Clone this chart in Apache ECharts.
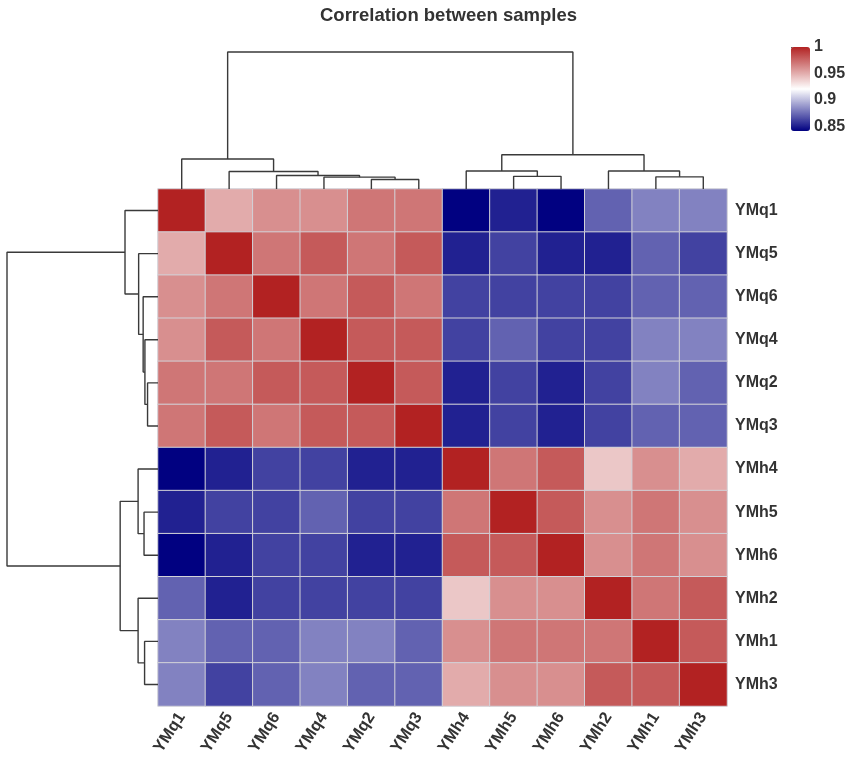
<!DOCTYPE html>
<html>
<head>
<meta charset="utf-8">
<script src="https://cdn.jsdelivr.net/npm/echarts@6/dist/echarts.min.js"></script>
<style>
  html, body { margin: 0; padding: 0; background: #fff; }
  #chart { width: 851px; height: 759px; }
</style>
</head>
<body>
<div id="chart"></div>
<script>
// 样本顺序（聚类后的顺序，行列相同）
const labels = ['YMq1', 'YMq5', 'YMq6', 'YMq4', 'YMq2', 'YMq3', 'YMh4', 'YMh5', 'YMh6', 'YMh2', 'YMh1', 'YMh3'];

// 相关系数矩阵，每行一个样本
const rowYMq1 = [1, 0.951, 0.961, 0.961, 0.970, 0.970, 0.842, 0.852, 0.842, 0.872, 0.882, 0.882];
const rowYMq5 = [0.951, 1, 0.970, 0.980, 0.970, 0.980, 0.852, 0.862, 0.852, 0.852, 0.872, 0.862];
const rowYMq6 = [0.961, 0.970, 1, 0.970, 0.980, 0.970, 0.862, 0.862, 0.862, 0.862, 0.872, 0.872];
const rowYMq4 = [0.961, 0.980, 0.970, 1, 0.980, 0.980, 0.862, 0.872, 0.862, 0.862, 0.882, 0.882];
const rowYMq2 = [0.970, 0.970, 0.980, 0.980, 1, 0.980, 0.852, 0.862, 0.852, 0.862, 0.882, 0.872];
const rowYMq3 = [0.970, 0.980, 0.970, 0.980, 0.980, 1, 0.852, 0.862, 0.852, 0.862, 0.872, 0.872];
const rowYMh4 = [0.842, 0.852, 0.862, 0.862, 0.852, 0.852, 1, 0.970, 0.980, 0.941, 0.961, 0.951];
const rowYMh5 = [0.852, 0.862, 0.862, 0.872, 0.862, 0.862, 0.970, 1, 0.980, 0.961, 0.970, 0.961];
const rowYMh6 = [0.842, 0.852, 0.862, 0.862, 0.852, 0.852, 0.980, 0.980, 1, 0.961, 0.970, 0.961];
const rowYMh2 = [0.872, 0.852, 0.862, 0.862, 0.862, 0.862, 0.941, 0.961, 0.961, 1, 0.970, 0.980];
const rowYMh1 = [0.882, 0.872, 0.872, 0.882, 0.882, 0.872, 0.961, 0.970, 0.970, 0.970, 1, 0.980];
const rowYMh3 = [0.882, 0.862, 0.872, 0.882, 0.872, 0.872, 0.951, 0.961, 0.961, 0.980, 0.980, 1];
const corrRows = [rowYMq1, rowYMq5, rowYMq6, rowYMq4, rowYMq2, rowYMq3, rowYMh4, rowYMh5, rowYMh6, rowYMh2, rowYMh1, rowYMh3];

// 层次聚类结果（hclust 格式）：负数 = 叶子(-1 为 labels[0])，正数 = 之前第几步合并
const mergeLeft = [-5, -4, -3, -2, -1, -8, -11, -7, -10, 8, 5];
const mergeRight = [-6, 1, 2, 3, 4, -9, -12, 6, 7, 9, 10];
const mergeHeight = [0.95, 1.19, 1.35, 1.76, 3.0, 1.27, 1.22, 1.81, 1.81, 3.44, 13.73];

// 色标
const colorMin = 0.8416;
const colorMax = 1;
const colorTicks = [0.85, 0.9, 0.95, 1];

const FONT = '"Liberation Sans", Arial, sans-serif';
const TXT = '#333333';

// 热图数据 [列, 行, 值]
const heatData = [];
corrRows.forEach((row, r) => {
  row.forEach((v, c) => heatData.push([c, r, v]));
});

// 由合并信息算出树的折线（位置=叶子序号+0.5，高度=合并高度）
function dendroBranches() {
  const pos = [], hgt = [], out = [];
  mergeLeft.forEach((a, i) => {
    const b = mergeRight[i];
    const h = mergeHeight[i];
    const pa = a < 0 ? -a - 0.5 : pos[a - 1];
    const ha = a < 0 ? 0 : hgt[a - 1];
    const pb = b < 0 ? -b - 0.5 : pos[b - 1];
    const hb = b < 0 ? 0 : hgt[b - 1];
    out.push([[pa, ha], [pa, h], [pb, h], [pb, hb]]);
    pos[i] = (pa + pb) / 2;
    hgt[i] = h;
  });
  return out;
}
const branches = dendroBranches();
const treeTop = Math.max(...mergeHeight);

const branchStyle = { color: '#3a3a3a', width: 1.4 };
const series = [{
  type: 'heatmap',
  xAxisIndex: 0,
  yAxisIndex: 0,
  data: heatData,
  itemStyle: { borderColor: '#d2d2d8', borderWidth: 1 },
  emphasis: { disabled: true }
}];
// 上方（列）树
branches.forEach(b => {
  series.push({
    type: 'line', xAxisIndex: 1, yAxisIndex: 1,
    data: b, symbol: 'none', clip: false, silent: true,
    lineStyle: branchStyle
  });
});
// 左侧（行）树
branches.forEach(b => {
  series.push({
    type: 'line', xAxisIndex: 2, yAxisIndex: 2,
    data: b.map(p => [p[1], p[0]]), symbol: 'none', clip: false, silent: true,
    lineStyle: branchStyle
  });
});

const hidden = { show: false };
const option = {
  animation: false,
  backgroundColor: '#ffffff',
  textStyle: { fontFamily: FONT },
  title: {
    text: 'Correlation between samples',
    left: 320,
    top: 6,
    padding: 0,
    textStyle: { fontFamily: FONT, fontSize: 18.5, fontWeight: 'bold', color: TXT }
  },
  grid: [
    { left: 158, top: 189, width: 569, height: 517 },
    { left: 158, top: 52, width: 569, height: 137 },
    { left: 7, top: 189, width: 151, height: 517 },
    { left: 791, top: 47, width: 19, height: 84 }
  ],
  xAxis: [
    {
      gridIndex: 0, type: 'category', data: labels,
      axisLine: hidden, axisTick: hidden, splitLine: hidden,
      axisLabel: {
        rotate: 57, margin: 8, interval: 0,
        fontFamily: FONT, fontSize: 16.5, fontWeight: 'bold', color: TXT
      }
    },
    { gridIndex: 1, type: 'value', min: 0, max: labels.length, show: false },
    { gridIndex: 2, type: 'value', min: 0, max: treeTop, inverse: true, show: false },
    { gridIndex: 3, type: 'value', min: 0, max: 1, show: false }
  ],
  yAxis: [
    {
      gridIndex: 0, type: 'category', data: labels, inverse: true, position: 'right',
      axisLine: hidden, axisTick: hidden, splitLine: hidden,
      axisLabel: {
        margin: 8, interval: 0,
        fontFamily: FONT, fontSize: 16, fontWeight: 'bold', color: TXT
      }
    },
    { gridIndex: 1, type: 'value', min: 0, max: treeTop, show: false },
    { gridIndex: 2, type: 'value', min: 0, max: labels.length, inverse: true, show: false },
    {
      // 色标刻度
      gridIndex: 3, type: 'value', position: 'right',
      min: colorMin, max: colorMax,
      axisLine: hidden, splitLine: hidden,
      axisTick: { show: true, length: 4, customValues: colorTicks, lineStyle: { color: '#555' } },
      axisLabel: {
        customValues: colorTicks, margin: 4,
        fontFamily: FONT, fontSize: 16, fontWeight: 'bold', color: TXT
      }
    }
  ],
  visualMap: {
    type: 'continuous',
    seriesIndex: 0,
    min: colorMin,
    max: colorMax,
    calculable: false,
    left: 791,
    top: 47,
    padding: 0,
    itemWidth: 19,
    itemHeight: 84,
    text: null,
    showLabel: false,
    inRange: { color: ['#000080', '#ffffff', '#b22222'] }
  },
  series: series
};

const chart = echarts.init(document.getElementById('chart'), null, { renderer: 'canvas' });
chart.setOption(option);
</script>
</body>
</html>
